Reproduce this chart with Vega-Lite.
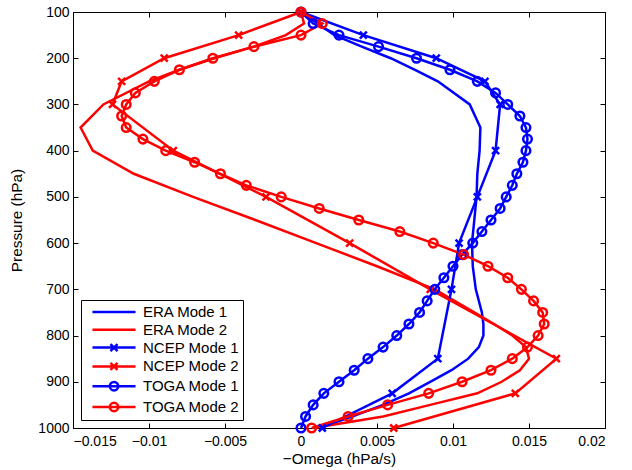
{
  "$schema": "https://vega.github.io/schema/vega-lite/v6.json",
  "autosize": "none",
  "padding": {"left": 73, "top": 12, "right": 27, "bottom": 42},
  "width": 532,
  "height": 416,
  "data": {"values": [
    {"s":"ERA Mode 1","p":100,"w":0},{"s":"ERA Mode 1","p":125,"w":0.0011},{"s":"ERA Mode 1","p":150,"w":0.0022},{"s":"ERA Mode 1","p":175,"w":0.0040},{"s":"ERA Mode 1","p":200,"w":0.0059},{"s":"ERA Mode 1","p":225,"w":0.0075},{"s":"ERA Mode 1","p":250,"w":0.0090},{"s":"ERA Mode 1","p":300,"w":0.0111},{"s":"ERA Mode 1","p":350,"w":0.0118},{"s":"ERA Mode 1","p":400,"w":0.01175},{"s":"ERA Mode 1","p":450,"w":0.0116},{"s":"ERA Mode 1","p":500,"w":0.01155},{"s":"ERA Mode 1","p":550,"w":0.0114},{"s":"ERA Mode 1","p":600,"w":0.01125},{"s":"ERA Mode 1","p":650,"w":0.0113},{"s":"ERA Mode 1","p":700,"w":0.0115},{"s":"ERA Mode 1","p":750,"w":0.0119},{"s":"ERA Mode 1","p":775,"w":0.0120},{"s":"ERA Mode 1","p":800,"w":0.0120},{"s":"ERA Mode 1","p":825,"w":0.0117},{"s":"ERA Mode 1","p":850,"w":0.0110},{"s":"ERA Mode 1","p":875,"w":0.0099},{"s":"ERA Mode 1","p":900,"w":0.0085},{"s":"ERA Mode 1","p":925,"w":0.0071},{"s":"ERA Mode 1","p":950,"w":0.0054},{"s":"ERA Mode 1","p":975,"w":0.0034},{"s":"ERA Mode 1","p":1000,"w":0.0012},
    {"s":"ERA Mode 2","p":100,"w":0},{"s":"ERA Mode 2","p":125,"w":0.0002},{"s":"ERA Mode 2","p":150,"w":-0.0010},{"s":"ERA Mode 2","p":175,"w":-0.0031},{"s":"ERA Mode 2","p":200,"w":-0.0057},{"s":"ERA Mode 2","p":225,"w":-0.0080},{"s":"ERA Mode 2","p":250,"w":-0.0100},{"s":"ERA Mode 2","p":300,"w":-0.0130},{"s":"ERA Mode 2","p":350,"w":-0.0145},{"s":"ERA Mode 2","p":400,"w":-0.0137},{"s":"ERA Mode 2","p":450,"w":-0.0110},{"s":"ERA Mode 2","p":500,"w":-0.0071},{"s":"ERA Mode 2","p":550,"w":-0.0030},{"s":"ERA Mode 2","p":600,"w":0.0010},{"s":"ERA Mode 2","p":650,"w":0.0050},{"s":"ERA Mode 2","p":700,"w":0.0088},{"s":"ERA Mode 2","p":750,"w":0.0114},{"s":"ERA Mode 2","p":775,"w":0.0127},{"s":"ERA Mode 2","p":800,"w":0.0139},{"s":"ERA Mode 2","p":825,"w":0.0148},{"s":"ERA Mode 2","p":850,"w":0.0150},{"s":"ERA Mode 2","p":875,"w":0.0144},{"s":"ERA Mode 2","p":900,"w":0.0132},{"s":"ERA Mode 2","p":925,"w":0.0116},{"s":"ERA Mode 2","p":950,"w":0.0085},{"s":"ERA Mode 2","p":975,"w":0.0054},{"s":"ERA Mode 2","p":1000,"w":0.0008},
    {"s":"NCEP Mode 1","p":100,"w":0},{"s":"NCEP Mode 1","p":150,"w":0.0041},{"s":"NCEP Mode 1","p":200,"w":0.0089},{"s":"NCEP Mode 1","p":250,"w":0.0121},{"s":"NCEP Mode 1","p":300,"w":0.0131},{"s":"NCEP Mode 1","p":400,"w":0.0128},{"s":"NCEP Mode 1","p":500,"w":0.0116},{"s":"NCEP Mode 1","p":600,"w":0.0104},{"s":"NCEP Mode 1","p":700,"w":0.0099},{"s":"NCEP Mode 1","p":850,"w":0.0090},{"s":"NCEP Mode 1","p":925,"w":0.0060},{"s":"NCEP Mode 1","p":1000,"w":0.0014},
    {"s":"NCEP Mode 2","p":100,"w":0},{"s":"NCEP Mode 2","p":150,"w":-0.0041},{"s":"NCEP Mode 2","p":200,"w":-0.0090},{"s":"NCEP Mode 2","p":250,"w":-0.0118},{"s":"NCEP Mode 2","p":300,"w":-0.0124},{"s":"NCEP Mode 2","p":400,"w":-0.0084},{"s":"NCEP Mode 2","p":500,"w":-0.0023},{"s":"NCEP Mode 2","p":600,"w":0.0032},{"s":"NCEP Mode 2","p":700,"w":0.0085},{"s":"NCEP Mode 2","p":850,"w":0.0168},{"s":"NCEP Mode 2","p":925,"w":0.0141},{"s":"NCEP Mode 2","p":1000,"w":0.0061},
    {"s":"TOGA Mode 1","p":100,"w":0},{"s":"TOGA Mode 1","p":125,"w":0.0008},{"s":"TOGA Mode 1","p":150,"w":0.0025},{"s":"TOGA Mode 1","p":175,"w":0.0051},{"s":"TOGA Mode 1","p":200,"w":0.0076},{"s":"TOGA Mode 1","p":225,"w":0.0098},{"s":"TOGA Mode 1","p":250,"w":0.0116},{"s":"TOGA Mode 1","p":275,"w":0.0128},{"s":"TOGA Mode 1","p":300,"w":0.0136},{"s":"TOGA Mode 1","p":325,"w":0.0144},{"s":"TOGA Mode 1","p":350,"w":0.0148},{"s":"TOGA Mode 1","p":375,"w":0.0149},{"s":"TOGA Mode 1","p":400,"w":0.0148},{"s":"TOGA Mode 1","p":425,"w":0.0146},{"s":"TOGA Mode 1","p":450,"w":0.0142},{"s":"TOGA Mode 1","p":475,"w":0.0139},{"s":"TOGA Mode 1","p":500,"w":0.0135},{"s":"TOGA Mode 1","p":525,"w":0.0131},{"s":"TOGA Mode 1","p":550,"w":0.0125},{"s":"TOGA Mode 1","p":575,"w":0.0119},{"s":"TOGA Mode 1","p":600,"w":0.0113},{"s":"TOGA Mode 1","p":625,"w":0.0106},{"s":"TOGA Mode 1","p":650,"w":0.0100},{"s":"TOGA Mode 1","p":675,"w":0.0094},{"s":"TOGA Mode 1","p":700,"w":0.0088},{"s":"TOGA Mode 1","p":725,"w":0.0083},{"s":"TOGA Mode 1","p":750,"w":0.0078},{"s":"TOGA Mode 1","p":775,"w":0.0071},{"s":"TOGA Mode 1","p":800,"w":0.0063},{"s":"TOGA Mode 1","p":825,"w":0.0054},{"s":"TOGA Mode 1","p":850,"w":0.0044},{"s":"TOGA Mode 1","p":875,"w":0.0035},{"s":"TOGA Mode 1","p":900,"w":0.0025},{"s":"TOGA Mode 1","p":925,"w":0.0015},{"s":"TOGA Mode 1","p":950,"w":0.0008},{"s":"TOGA Mode 1","p":975,"w":0.0003},{"s":"TOGA Mode 1","p":1000,"w":0},
    {"s":"TOGA Mode 2","p":100,"w":0},{"s":"TOGA Mode 2","p":125,"w":0.0014},{"s":"TOGA Mode 2","p":150,"w":0},{"s":"TOGA Mode 2","p":175,"w":-0.0031},{"s":"TOGA Mode 2","p":200,"w":-0.0058},{"s":"TOGA Mode 2","p":225,"w":-0.0080},{"s":"TOGA Mode 2","p":250,"w":-0.00965},{"s":"TOGA Mode 2","p":275,"w":-0.0109},{"s":"TOGA Mode 2","p":300,"w":-0.0115},{"s":"TOGA Mode 2","p":325,"w":-0.0118},{"s":"TOGA Mode 2","p":350,"w":-0.0115},{"s":"TOGA Mode 2","p":375,"w":-0.0104},{"s":"TOGA Mode 2","p":400,"w":-0.0089},{"s":"TOGA Mode 2","p":425,"w":-0.0070},{"s":"TOGA Mode 2","p":450,"w":-0.0053},{"s":"TOGA Mode 2","p":475,"w":-0.0036},{"s":"TOGA Mode 2","p":500,"w":-0.0013},{"s":"TOGA Mode 2","p":525,"w":0.0012},{"s":"TOGA Mode 2","p":550,"w":0.0038},{"s":"TOGA Mode 2","p":575,"w":0.0065},{"s":"TOGA Mode 2","p":600,"w":0.0087},{"s":"TOGA Mode 2","p":625,"w":0.0107},{"s":"TOGA Mode 2","p":650,"w":0.0123},{"s":"TOGA Mode 2","p":675,"w":0.0136},{"s":"TOGA Mode 2","p":700,"w":0.0145},{"s":"TOGA Mode 2","p":725,"w":0.0153},{"s":"TOGA Mode 2","p":750,"w":0.0159},{"s":"TOGA Mode 2","p":775,"w":0.0160},{"s":"TOGA Mode 2","p":800,"w":0.0156},{"s":"TOGA Mode 2","p":825,"w":0.0149},{"s":"TOGA Mode 2","p":850,"w":0.0139},{"s":"TOGA Mode 2","p":875,"w":0.0125},{"s":"TOGA Mode 2","p":900,"w":0.0106},{"s":"TOGA Mode 2","p":925,"w":0.0084},{"s":"TOGA Mode 2","p":950,"w":0.0057},{"s":"TOGA Mode 2","p":975,"w":0.0031},{"s":"TOGA Mode 2","p":1000,"w":0.0007}
  ]},
  "layer": [
    {
      "mark": {"type": "line", "strokeWidth": 2.5, "strokeJoin": "miter"},
      "encoding": {
        "x": {"field": "w", "type": "quantitative",
              "scale": {"domain": [-0.015, 0.02], "nice": false, "zero": false},
              "axis": {"orient": "bottom", "values": [-0.015,-0.01,-0.005,0,0.005,0.01,0.015,0.02], "format": "~g", "title": "\u2212Omega (hPa/s)", "labelPadding": 11, "titlePadding": 3}},
        "y": {"field": "p", "type": "quantitative",
              "scale": {"domain": [100, 1000], "nice": false, "zero": false, "reverse": true},
              "axis": {"orient": "left", "values": [100,200,300,400,500,600,700,800,900,1000], "format": "d", "title": "Pressure (hPa)", "labelPadding": 9, "titlePadding": 13}},
        "color": {"field": "s", "type": "nominal",
                  "scale": {"domain": ["ERA Mode 1","ERA Mode 2","NCEP Mode 1","NCEP Mode 2","TOGA Mode 1","TOGA Mode 2"],
                            "range": ["#0000ff","#ff0000","#0000ff","#ff0000","#0000ff","#ff0000"]},
                  "legend": {
                    "title": null, "orient": "bottom-left", "offset": 8,
                    "strokeColor": "black", "fillColor": "white", "padding": 3, "rowPadding": 0.8,
                    "labelFontSize": 15, "labelFont": "Liberation Sans", "labelColor": "black", "labelOffset": 41, "labelLimit": 0,
                    "symbolSize": 225, "symbolStrokeWidth": 2.5,
                    "encode": {"symbols": {"update": {
                      "shape": {"signal": "indexof(datum.value,'NCEP')>=0 ? 'M-0.07,0L5.67,0M2.33,-0.47L3.27,0.47M2.33,0.47L3.27,-0.47' : (indexof(datum.value,'TOGA')>=0 ? 'M-0.07,0L5.67,0M2.24,0A0.56,0.56,0,1,1,3.36,0A0.56,0.56,0,1,1,2.24,0' : 'M-0.07,0L5.67,0')"},
                      "fill": {"value": "transparent"}
                    }}}
                  }},
        "order": {"field": "p", "type": "quantitative"}
      }
    },
    {
      "transform": [{"filter": "indexof(datum.s,'ERA') < 0"}],
      "mark": {"type": "point", "filled": false, "strokeWidth": 2.5, "opacity": 1},
      "encoding": {
        "x": {"field": "w", "type": "quantitative",
              "axis": {"orient": "top", "values": [-0.015,-0.01,-0.005,0,0.005,0.01,0.015,0.02], "labels": false, "title": null}},
        "y": {"field": "p", "type": "quantitative",
              "axis": {"orient": "right", "values": [100,200,300,400,500,600,700,800,900,1000], "labels": false, "title": null}},
        "stroke": {"field": "s", "type": "nominal",
                   "scale": {"domain": ["NCEP Mode 1","NCEP Mode 2","TOGA Mode 1","TOGA Mode 2"], "range": ["#0000ff","#ff0000","#0000ff","#ff0000"]},
                   "legend": null},
        "shape": {"condition": {"test": "indexof(datum.s,'TOGA')>=0", "value": "circle"}, "value": "M-1,-1L1,1M-1,1L1,-1"},
        "size": {"condition": {"test": "indexof(datum.s,'TOGA')>=0", "value": 74}, "value": 49}
      }
    }
  ],
  "resolve": {"axis": {"x": "independent", "y": "independent"}},
  "config": {
    "view": {"stroke": "black", "strokeWidth": 1},
    "axis": {"domain": false, "grid": false, "tickColor": "black", "tickSize": -5, "tickWidth": 1,
             "labelColor": "black", "labelFont": "Liberation Sans", "labelFontSize": 14,
             "titleColor": "black", "titleFont": "Liberation Sans", "titleFontSize": 15.4, "titleFontWeight": "normal"},
    "legend": {"strokeWidth": 1}
  }
}
